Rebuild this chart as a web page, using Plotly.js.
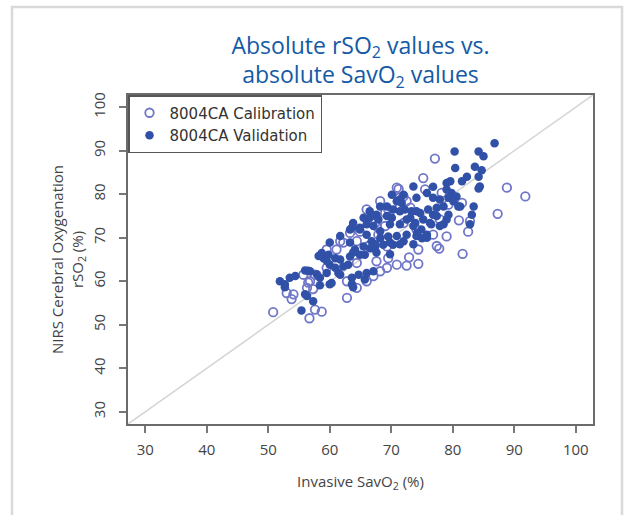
<!DOCTYPE html>
<html>
<head>
<meta charset="utf-8">
<script src="https://cdn.plot.ly/plotly-3.0.1.min.js"></script>
<style>html,body{margin:0;padding:0;background:#fff;}#chart{width:629px;height:515px;}</style>
</head>
<body>
<div id="chart"></div>
<script>
// Calibration (open circles): SavO2 (x) and rSO2 (y)
const calX = [77.1,75.2,88.8,91.8,87.3,81.5,81.0,82.8,78.2,72.5,71.4,77.9,82.5,79.0,74.4,77.8,81.6,72.9,72.5,74.4,76.8,
  50.8,56.7,57.6,58.7,62.8,53.0,54.1,56.3,55.7,56.8,57.6,61.1,61.7,63.3,64.4,64.4,59.5,62.8,64.4,66.0,67.1,68.2,69.3,69.5,70.9,67.6,
  64.9,67.9,69.3,70.9,69.0,67.4,69.0,71.2,75.5,79.3,72.0,71.4,73.1,69.5,77.4,74.1,72.0,69.3,66.3,62.2,67.6,59.5,66.0,68.2,53.8,56.5,57.3];
const calY = [88.2,83.7,81.5,79.5,75.5,78.0,74.0,73.8,80.3,78.4,79.2,74.2,71.4,70.3,67.3,67.5,66.3,65.5,63.6,64.0,70.7,
  52.9,51.5,53.5,53.0,56.2,57.3,57.0,58.5,61.5,60.0,61.5,67.3,69.2,71.1,69.2,64.2,63.1,60.0,58.5,60.0,61.2,62.3,63.1,65.3,63.8,64.6,
  71.4,70.7,68.0,81.5,75.7,73.4,72.7,81.2,81.1,77.6,79.5,77.2,76.9,76.5,68.1,71.9,73.4,69.6,68.1,68.9,72.7,67.3,76.5,78.4,55.9,59.7,58.2];

// Validation (filled circles)
const valX = [86.8,80.3,84.2,85.0,80.4,83.6,84.7,84.2,82.3,84.4,84.2,81.5,79.6,79.0,76.8,73.6,79.0,79.8,80.6,79.3,80.1,83.4,81.2,78.5,
  76.8,75.8,74.1,72.0,83.1,79.3,76.8,74.7,73.3,75.2,76.3,73.9,72.5,78.5,82.8,71.7,72.2,72.0,72.5,75.0,74.2,75.8,
  51.9,52.7,53.5,54.4,56.0,56.8,58.4,59.5,58.4,60.0,59.0,59.8,58.7,60.9,61.7,60.0,60.9,61.4,62.2,63.0,61.7,56.3,57.3,55.4,
  63.6,60.3,63.6,64.7,64.9,63.3,64.1,65.5,66.6,67.4,68.7,65.7,66.8,66.0,68.2,70.3,69.5,66.0,67.1,65.7,
  70.1,70.9,69.3,67.6,66.5,66.0,64.9,63.6,70.1,69.8,68.2,71.4,77.9,68.2,66.5,70.3,71.4,74.1,76.0,77.4,80.9,
  65.5,67.9,69.3,73.1,77.4,79.0,63.8,64.9,67.1,71.4,73.6,74.9,76.5,77.9,63.3,61.7,70.9,74.1,75.8,
  60.0,63.3,67.4,69.8,71.4,73.6,63.8,67.6,69.8,52.7,56.5,56.0,57.9,58.2,63.8,59.5];
const valY = [91.7,89.8,89.8,88.7,86.0,86.3,85.5,84.0,84.0,81.8,81.3,83.0,83.0,82.6,81.7,81.8,81.1,80.3,79.5,79.2,78.4,77.2,77.2,77.2,
  79.2,80.3,79.2,79.9,75.3,75.3,75.3,75.7,76.1,74.2,73.4,73.4,74.2,73.1,73.1,78.0,76.5,69.2,70.7,69.9,71.1,70.7,
  60.0,59.3,60.8,61.2,62.5,62.3,60.8,61.9,59.1,59.3,65.3,66.1,66.5,65.3,65.0,63.8,63.1,61.9,63.4,63.8,61.5,56.6,55.4,53.3,
  59.3,59.6,60.8,61.5,66.1,65.7,67.3,68.0,67.6,68.0,68.4,66.1,69.2,70.7,69.9,68.4,70.3,61.9,62.3,60.4,
  79.9,78.4,77.2,75.3,74.6,73.1,72.3,72.3,74.6,73.1,71.5,78.8,78.8,77.2,76.1,76.5,76.1,76.1,76.5,76.9,77.2,
  74.6,74.2,75.0,74.6,75.0,74.2,73.4,71.9,72.7,73.1,72.7,71.9,73.1,72.7,71.9,70.4,70.4,70.4,70.0,
  68.9,68.9,68.5,68.9,68.5,68.5,66.6,66.6,66.2,58.6,62.4,57.0,61.6,65.8,58.6,64.7];

const lineXY = [20, 110];
const xTicks = [30,40,50,60,70,80,90,100];
const yTicks = [30,40,50,60,70,80,90,100];

const traces = [
  {x: lineXY, y: lineXY, mode: 'lines', line: {color: '#d6d6d6', width: 1.6}, showlegend: false, hoverinfo: 'skip'},
  {x: calX, y: calY, mode: 'markers', name: '8004CA Calibration', type: 'scatter',
   marker: {symbol: 'circle-open', size: 8.5, color: '#7076c8', line: {width: 1.8}}},
  {x: valX, y: valY, mode: 'markers', name: '8004CA Validation', type: 'scatter',
   marker: {symbol: 'circle', size: 8.5, color: '#3150a8'}}
];

const axisFont = {family: 'Open Sans', size: 15, color: '#444'};
const layout = {
  width: 629, height: 515,
  margin: {l: 128, r: 36, t: 95, b: 91},
  paper_bgcolor: '#fff', plot_bgcolor: '#fff',
  showlegend: true,
  title: {
    text: 'Absolute rSO<sub>2</sub> values vs.<br>absolute SavO<sub>2</sub> values',
    font: {family: 'Open Sans', size: 23, color: '#145aa6', weight: 500},
    x: 0.5, xref: 'paper', xanchor: 'center',
    y: 0.896, yref: 'container', yanchor: 'middle'
  },
  xaxis: {
    range: [27.2, 102.8], tickvals: xTicks, ticktext: xTicks.map(String),
    showgrid: false, zeroline: false,
    showline: true, mirror: true, linecolor: '#6b6b6b', linewidth: 2,
    ticks: 'outside', ticklen: 7, tickwidth: 2, tickcolor: '#777',
    tickfont: axisFont, ticklabelstandoff: 4,
    title: {text: 'Invasive SavO<sub>2</sub> (%)', font: {family: 'Open Sans', size: 15, color: '#444'}, standoff: 18}
  },
  yaxis: {
    range: [27.2, 102.8], tickvals: yTicks, ticktext: yTicks.map(String),
    showgrid: false, zeroline: false,
    showline: true, mirror: true, linecolor: '#6b6b6b', linewidth: 2,
    ticks: 'outside', ticklen: 7, tickwidth: 2, tickcolor: '#777',
    tickfont: axisFont, tickangle: -90, ticklabelstandoff: 8,
    title: {text: 'NIRS Cerebral Oxygenation<br>rSO<sub>2</sub> (%)', font: {family: 'Open Sans', size: 15, color: '#444'}, standoff: 0}
  },
  legend: {
    x: 0, y: 1, xanchor: 'left', yanchor: 'top',
    bgcolor: '#fff', bordercolor: '#555', borderwidth: 1.5,
    font: {family: 'DejaVu Sans', size: 15, color: '#333'},
    tracegroupgap: 0
  },
  shapes: [
    {type: 'rect', xref: 'paper', yref: 'paper', x0: -0.2495, x1: 1.0624, y0: -0.35, y1: 1.2675,
     line: {color: '#d9d9d9', width: 2.5}, fillcolor: 'rgba(0,0,0,0)', layer: 'below'}
  ]
};

Plotly.newPlot('chart', traces, layout, {staticPlot: true, displayModeBar: false});
</script>
</body>
</html>
